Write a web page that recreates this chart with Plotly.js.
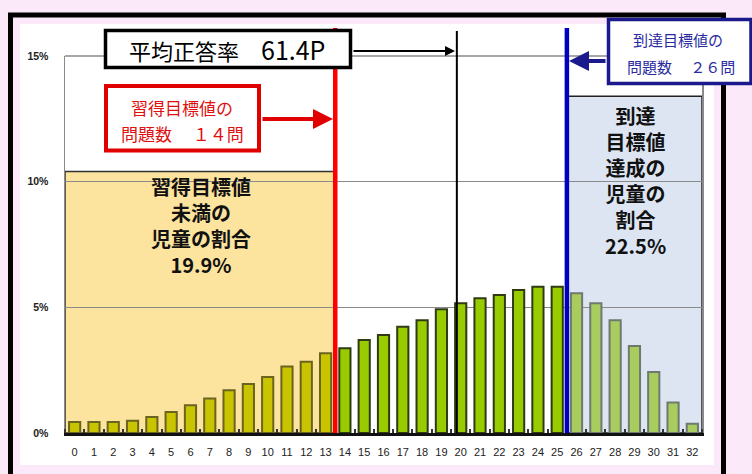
<!DOCTYPE html>
<html>
<head>
<meta charset="utf-8">
<script src="https://cdn.plot.ly/plotly-3.0.1.min.js"></script>
<style>html,body{margin:0;padding:0;background:#fbe8f8;}#chart{width:752px;height:474px;}</style>
</head>
<body>
<div id="chart"></div>
<script>
// ---- data ----
const questions = [0,1,2,3,4,5,6,7,8,9,10,11,12,13,14,15,16,17,18,19,20,21,22,23,24,25,26,27,28,29,30,31,32];
const shares = [0.44,0.44,0.44,0.49,0.64,0.84,1.10,1.37,1.70,1.95,2.23,2.65,2.83,3.17,3.37,3.70,3.90,4.23,4.49,4.92,5.16,5.36,5.49,5.69,5.82,5.82,5.56,5.16,4.49,3.46,2.43,1.21,0.37];
const yTickVals = [0,5,10,15];
const passQuestions = 14;      // 習得目標値の問題数
const reachQuestions = 26;     // 到達目標値の問題数
const avgRateLabel = "61.4P";
const belowPassShare = "19.9%";
const reachShare = "22.5%";

// ---- geometry helpers (layout only) ----
const W = 752, H = 474, L = 65, R = 50, T = 56, B = 41;
const pw = W - L - R, ph = H - T - B;
const xp = p => (p - L) / pw;           // pixel -> paper x
const yp = p => (H - B - p) / ph;       // pixel -> paper y
const nCat = questions.length;
const xd2p = d => (d + 0.5) / nCat;     // data x -> paper x

const redX = xd2p(passQuestions - 0.5);
const blueX = xd2p(reachQuestions - 0.5);
const avgX = xd2p(19.8);

const fills = [], lines = [];
questions.forEach(q => {
  if (q < passQuestions) { fills.push('#c8c400'); lines.push('#6b6420'); }
  else if (q < reachQuestions) { fills.push('#99cc00'); lines.push('#2e3b14'); }
  else { fills.push('#a9cc5e'); lines.push('#6e7a70'); }
});

const trace = {
  type: 'bar', x: questions, y: shares, width: 0.58,
  marker: { color: fills, line: { color: lines, width: 2 } },
  hoverinfo: 'skip'
};

const cjk = '"Noto Sans CJK JP", "Noto Sans", sans-serif';

const shapes = [
  // frame & panel
  { type:'rect', xref:'paper', yref:'paper', layer:'below', x0:xp(10.5), x1:xp(723.5), y0:yp(500), y1:yp(15), fillcolor:'#fbe8f8', line:{color:'#000', width:5} },
  { type:'rect', xref:'paper', yref:'paper', layer:'below', x0:xp(20), x1:xp(714), y0:yp(465), y1:yp(24), fillcolor:'#ffffff', line:{width:0} },
  // top frame line of plot area
  { type:'line', xref:'paper', yref:'paper', layer:'below', x0:0, x1:1, y0:1, y1:1, line:{color:'#8a8a8a', width:1.5} },
  // shaded regions
  { type:'rect', xref:'x', yref:'y', layer:'below', x0:-0.5, x1:passQuestions - 0.5, y0:0, y1:10.4, fillcolor:'#fde49e', line:{color:'#333', width:1.5} },
  { type:'rect', xref:'x', yref:'y', layer:'below', x0:reachQuestions - 0.5, x1:questions.length - 0.5, y0:0, y1:13.4, fillcolor:'#dce5f1', line:{color:'#222', width:1.5} },
  // vertical lines
  { type:'line', xref:'paper', yref:'paper', layer:'above', x0:avgX, x1:avgX, y0:yp(433), y1:yp(31), line:{color:'#000', width:2} },
  { type:'line', xref:'paper', yref:'paper', layer:'above', x0:redX, x1:redX, y0:yp(433), y1:yp(28), line:{color:'#ff0000', width:4.5} },
  { type:'line', xref:'paper', yref:'paper', layer:'above', x0:blueX, x1:blueX, y0:yp(433), y1:yp(28), line:{color:'#0000c0', width:4.5} },
  // boxes
  { type:'rect', xref:'paper', yref:'paper', layer:'above', x0:xp(105.5), x1:xp(350.5), y0:yp(67.5), y1:yp(30.5), fillcolor:'#fff', line:{color:'#000', width:3.5} },
  { type:'rect', xref:'paper', yref:'paper', layer:'above', x0:xp(106), x1:xp(259), y0:yp(150.5), y1:yp(86), fillcolor:'#fff', line:{color:'#e00000', width:4} },
  { type:'rect', xref:'paper', yref:'paper', layer:'above', x0:xp(608.5), x1:xp(751), y0:yp(83.5), y1:yp(19.5), fillcolor:'#fff', line:{color:'#1a1a8c', width:3.5} }
];

function txt(text, x, y, size, color, bold) {
  return { xref:'paper', yref:'paper', x:xp(x), y:yp(y), xanchor:'center', yanchor:'middle', showarrow:false, borderpad:0,
           text: bold ? '<b>' + text + '</b>' : text, font:{family:cjk, size:size, color:color} };
}
function arrow(hx, hy, tx, ty, color, w) {
  return { xref:'paper', yref:'paper', x:xp(hx), y:yp(hy), ax:tx - hx, ay:ty - hy, text:'', showarrow:true,
           arrowhead:2, arrowsize:1, arrowwidth:w, arrowcolor:color, standoff:0, startstandoff:0 };
}

const annotations = [
  arrow(455, 51, 352, 51, '#000', 2),
  arrow(333, 119, 261, 119, '#e00000', 4),
  arrow(569, 61, 607, 61, '#1a1a8c', 4),
  txt('<span style="font-size:22px">平均正答率　</span>' + avgRateLabel, 227, 49, 25, '#000', false),
  txt('習得目標値の', 182, 107, 17, '#e01010', false),
  txt('問題数　 １４問', 182, 133, 17, '#e01010', false),
  txt('到達目標値の', 678, 40, 15, '#2a2aa0', false),
  txt('問題数　 ２６問', 681, 67, 15, '#2a2aa0', false),
  txt('習得目標値<br>未満の<br>児童の割合<br>' + belowPassShare, 201, 226, 20, '#111', true),
  txt('到達<br>目標値<br>達成の<br>児童の<br>割合<br>' + reachShare, 635, 180, 20, '#111', true)
];

const layout = {
  width: W, height: H,
  margin: { l: L, r: R, t: T, b: B, pad: 0 },
  paper_bgcolor: '#fbe8f8',
  plot_bgcolor: 'rgba(0,0,0,0)',
  showlegend: false,
  bargap: 0.42,
  xaxis: {
    range: [-0.5, questions.length - 0.5], tickmode: 'linear', tick0: 0, dtick: 1,
    showline: true, linecolor: '#111', linewidth: 3, showgrid: false, zeroline: false,
    ticks: '', ticklabelstandoff: 7,
    minor: { tick0: 0.5, dtick: 1, ticks: 'inside', ticklen: 4, tickwidth: 2, tickcolor: '#333', showgrid: false },
    tickfont: { family: '"Liberation Sans", Arial, sans-serif', size: 11, color: '#222' },
    fixedrange: true
  },
  yaxis: {
    range: [0, 15], tickmode: 'array', tickvals: yTickVals, ticktext: yTickVals.map(v => v + '%'),
    showline: true, linecolor: '#8a8a8a', linewidth: 1.5, mirror: true,
    showgrid: true, gridcolor: '#8a8a8a', gridwidth: 1.5, zeroline: false,
    ticks: '', ticklabelstandoff: 13,
    tickfont: { family: '"Liberation Sans", Arial, sans-serif', size: 10.5, color: '#222', weight: 'bold' },
    fixedrange: true
  },
  shapes: shapes,
  annotations: annotations
};

Plotly.newPlot('chart', [trace], layout, { staticPlot: true, displayModeBar: false });
</script>
</body>
</html>
